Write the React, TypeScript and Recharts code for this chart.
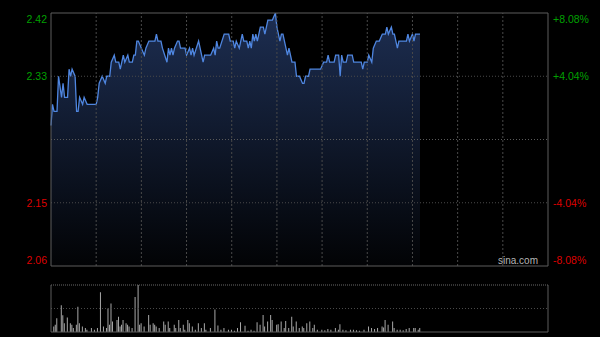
import React from 'react';
import { ComposedChart, Area, XAxis, YAxis, ReferenceLine, BarChart, Bar } from 'recharts';

// ---- data ----
const minutes = [0,1,2,4,5,7,8,9,11,12,13,14,16,17,18,19,21,22,24,30,31,32,34,36,37,39,40,42,43,45,46,48,49,51,52,54,55,56,57,58,60,62,63,65,69,70,71,73,74,77,78,79,80,81,82,84,85,86,89,90,92,93,94,95,98,99,101,102,106,108,109,110,111,112,115,118,119,121,122,123,125,127,128,130,131,132,133,134,135,136,137,139,141,142,144,147,149,150,152,153,154,155,156,157,158,160,162,163,165,167,168,169,171,172,179,181,183,184,185,188,189,191,192,193,194,196,197,200,201,206,207,208,210,211,213,214,216,218,220,222,223,224,226,227,228,229,230,231,236,237,238,240,241,242,245];
const prices = [2.26,2.29,2.28,2.28,2.33,2.30,2.32,2.30,2.30,2.34,2.33,2.34,2.33,2.28,2.28,2.30,2.29,2.30,2.29,2.29,2.30,2.32,2.33,2.32,2.33,2.33,2.35,2.36,2.35,2.35,2.34,2.36,2.35,2.36,2.35,2.35,2.36,2.36,2.38,2.38,2.37,2.36,2.37,2.38,2.38,2.39,2.38,2.38,2.37,2.35,2.37,2.36,2.37,2.36,2.37,2.38,2.38,2.37,2.37,2.36,2.37,2.36,2.37,2.36,2.38,2.37,2.35,2.36,2.36,2.37,2.36,2.38,2.37,2.37,2.39,2.39,2.38,2.38,2.37,2.38,2.37,2.39,2.38,2.38,2.37,2.38,2.37,2.39,2.38,2.39,2.38,2.40,2.40,2.39,2.41,2.41,2.42,2.40,2.38,2.39,2.39,2.38,2.37,2.36,2.37,2.35,2.35,2.33,2.33,2.32,2.32,2.33,2.33,2.34,2.34,2.35,2.35,2.36,2.35,2.35,2.36,2.36,2.33,2.36,2.35,2.35,2.36,2.36,2.35,2.35,2.34,2.35,2.35,2.36,2.35,2.37,2.38,2.38,2.39,2.39,2.40,2.39,2.40,2.39,2.39,2.38,2.37,2.38,2.38,2.39,2.38,2.39,2.38,2.39,2.39];

const volMinutes = [2,3,4,7,8,9,11,13,14,15,17,18,19,21,23,24,27,29,31,33,35,37,38,39,40,41,44,45,46,47,48,50,51,52,54,56,58,59,60,62,65,66,68,69,70,72,75,76,78,79,82,83,85,86,88,89,91,92,94,96,98,100,102,103,106,109,111,113,115,118,120,122,124,126,129,131,133,135,137,139,141,142,144,146,147,150,151,153,155,156,158,160,161,163,165,167,168,170,172,174,175,177,180,182,184,186,189,191,192,194,196,199,201,203,205,208,211,213,215,217,220,221,222,224,227,228,230,232,234,236,238,241,242,244,245];
const volumes = [57,73,140,273,170,90,147,90,73,40,73,257,90,57,40,23,40,23,40,407,57,40,240,73,290,107,123,157,57,73,123,90,73,57,40,357,480,73,90,57,173,73,90,73,57,40,107,73,107,40,73,40,123,40,73,23,123,90,57,23,90,40,90,23,40,230,67,23,40,23,23,13,40,100,63,13,23,13,100,73,173,57,107,173,123,73,80,107,40,113,40,157,57,107,40,57,40,90,107,40,73,23,23,17,30,23,40,23,80,23,17,23,23,17,13,23,57,40,30,40,57,47,123,73,107,40,23,23,17,30,40,40,40,23,40];

const prevClose = 2.24;
const priceTicks = [2.06, 2.15, 2.24, 2.33, 2.42];
const pctTicks = [-8.08, -4.04, 4.04, 8.08];
const timeGrid = [30, 60, 90, 120, 150, 180, 210, 240, 270, 300];
const volMax = 480;

const priceData = minutes.map((m, i) => ({ m, p: prices[i] }));
const volData = volMinutes.map((m, i) => ({ m, v: volumes[i] }));

const FONT = '"Liberation Sans", Arial, sans-serif';
const GREEN = '#00a000';
const RED = '#dd0000';
const GRID = '#4a4a4a';
const BORDER = '#5c5c5c';

const LeftTick = (props: any) => {
  const { x, y, payload } = props;
  const v = payload.value as number;
  if (Math.abs(v - prevClose) < 1e-6) return <g />;
  const color = v > prevClose ? GREEN : RED;
  let dy = 4;
  if (Math.abs(v - 2.42) < 1e-6) dy = 10;
  if (Math.abs(v - 2.06) < 1e-6) dy = -2;
  return (
    <text x={x} y={y} dy={dy} textAnchor="end" fill={color} fontSize={10.5} fontFamily={FONT}>
      {v.toFixed(2)}
    </text>
  );
};

const RightTick = (props: any) => {
  const { x, y, payload } = props;
  const v = payload.value as number;
  const color = v > 0 ? GREEN : RED;
  let dy = 4;
  if (Math.abs(v - 8.08) < 1e-6) dy = 10;
  if (Math.abs(v + 8.08) < 1e-6) dy = -2;
  const label = (v > 0 ? '+' : '') + v.toFixed(2) + '%';
  return (
    <text x={x} y={y} dy={dy} textAnchor="start" fill={color} fontSize={10.5} fontFamily={FONT}>
      {label}
    </text>
  );
};

export default function App() {
  return (
    <div style={{ position: 'fixed', left: 0, top: 0, width: 600, height: 337, background: '#000', overflow: 'hidden' }}>
      <div style={{ position: 'absolute', left: 0, top: 0 }}>
        <ComposedChart width={600} height={278} data={priceData} margin={{ top: 13, right: 0, bottom: 12, left: 0 }}>
          <defs>
            <linearGradient id="pfill" x1="0" y1="0" x2="0" y2="1">
              <stop offset="0%" stopColor="#1d2e52" stopOpacity={1} />
              <stop offset="100%" stopColor="#020305" stopOpacity={1} />
            </linearGradient>
          </defs>
          <XAxis dataKey="m" type="number" domain={[0, 330]} hide />
          <YAxis yAxisId="price" domain={[2.06, 2.42]} ticks={priceTicks} width={51} axisLine={false} tickLine={false} tickSize={0} tickMargin={4} tick={<LeftTick />} interval={0} allowDataOverflow />
          <YAxis yAxisId="pct" orientation="right" domain={[-8.08, 8.08]} ticks={pctTicks} width={52} axisLine={false} tickLine={false} tickSize={0} tickMargin={5} tick={<RightTick />} interval={0} allowDataOverflow />
          <Area yAxisId="price" type="linear" dataKey="p" stroke="#4f86e0" strokeWidth={1.3} fill="url(#pfill)" fillOpacity={1} baseValue={2.06} isAnimationActive={false} dot={false} activeDot={false} />
          {timeGrid.map((t) => (
            <ReferenceLine key={'v' + t} yAxisId="price" x={t} stroke={GRID} strokeDasharray="2 2" />
          ))}
          <ReferenceLine yAxisId="price" y={2.33} stroke={GRID} strokeDasharray="1 2" />
          <ReferenceLine yAxisId="price" y={2.24} stroke="#5a5a5a" strokeDasharray="1 2" />
          <ReferenceLine yAxisId="price" y={2.15} stroke={GRID} strokeDasharray="1 2" />
          <ReferenceLine yAxisId="price" y={2.42} stroke={BORDER} />
          <ReferenceLine yAxisId="price" y={2.06} stroke={BORDER} />
          <ReferenceLine yAxisId="price" x={0} stroke={BORDER} />
          <ReferenceLine yAxisId="price" x={330} stroke={BORDER} />
        </ComposedChart>
      </div>
      <div style={{ position: 'absolute', left: 498, top: 255, color: '#b5b5b5', fontFamily: FONT, fontSize: 10, lineHeight: '12px' }}>
        sina.com
      </div>
      <div style={{ position: 'absolute', left: 0, top: 0 }}>
        <BarChart width={600} height={337} data={volData} margin={{ top: 285, right: 52, bottom: 5, left: 51 }} barCategoryGap={0}>
          <XAxis dataKey="m" type="number" domain={[0, 330]} hide />
          <YAxis domain={[0, volMax]} hide allowDataOverflow />
          <Bar dataKey="v" fill="#a8a8a8" barSize={1} isAnimationActive={false} />
          <ReferenceLine y={volMax / 2} stroke={GRID} strokeDasharray="1 2" />
          <ReferenceLine y={volMax} stroke="#6a6a6a" strokeDasharray="1 1" />
          <ReferenceLine y={0} stroke={BORDER} />
          <ReferenceLine x={0} stroke={BORDER} />
          <ReferenceLine x={330} stroke={BORDER} />
        </BarChart>
      </div>
    </div>
  );
}
